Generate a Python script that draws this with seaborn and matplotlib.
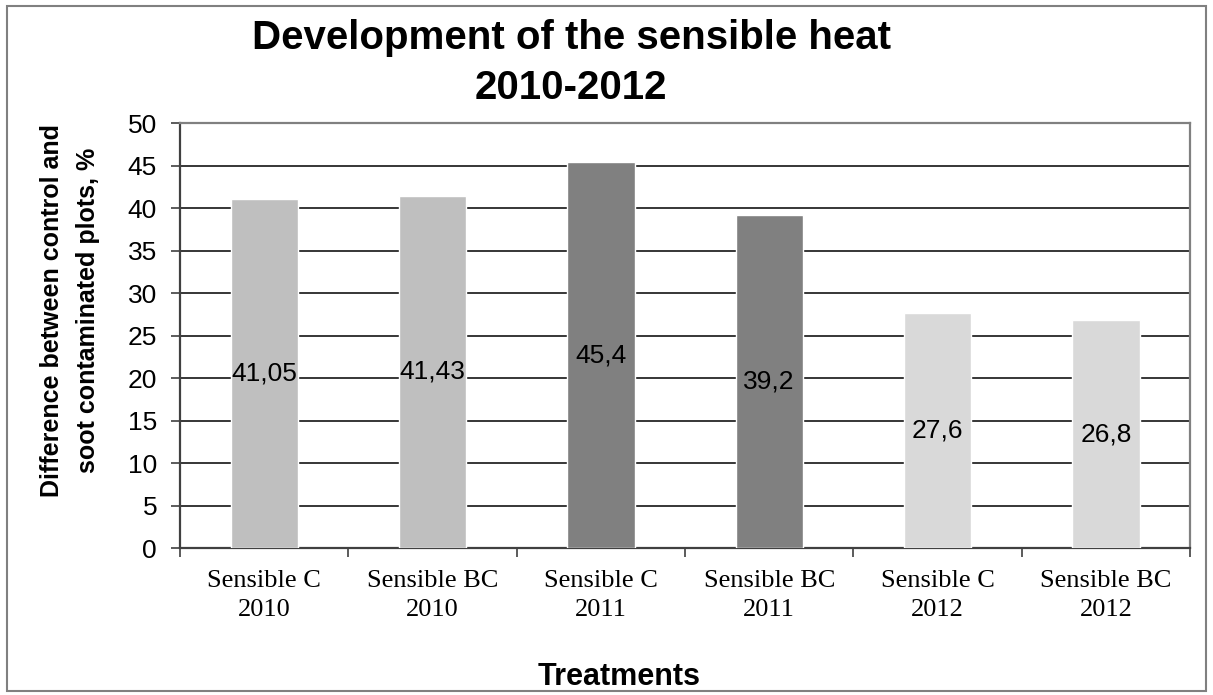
import matplotlib
matplotlib.use("Agg")
import matplotlib.pyplot as plt
from matplotlib.patches import Rectangle
import seaborn as sns
import numpy as np

categories = ["Sensible C\n2010", "Sensible BC\n2010", "Sensible C\n2011",
              "Sensible BC\n2011", "Sensible C\n2012", "Sensible BC\n2012"]
values = [41.05, 41.43, 45.4, 39.2, 27.6, 26.8]
value_labels = ["41,05", "41,43", "45,4", "39,2", "27,6", "26,8"]
bar_colors = ["#BFBFBF", "#BFBFBF", "#808080", "#808080", "#D9D9D9", "#D9D9D9"]
y_ticks = [0, 5, 10, 15, 20, 25, 30, 35, 40, 45, 50]

sns.set_theme(style="white")
plt.rcParams["font.family"] = ["Liberation Sans", "DejaVu Sans"]
for key in ["text.color", "axes.labelcolor", "xtick.labelcolor", "ytick.labelcolor"]:
    plt.rcParams[key] = "black"

fig = plt.figure(figsize=(12.13, 6.95), dpi=100)
ax = fig.add_axes([0.1484, 0.2115, 0.8327, 0.6115])

sns.barplot(x=categories, y=values, hue=categories, palette=bar_colors,
            width=0.4, legend=False, ax=ax, saturation=1, zorder=3)

ax.set_ylim(0, 50)
ax.set_xlim(-0.5, len(categories) - 0.5)
ax.set_yticks(y_ticks)
ax.set_yticklabels([str(t) for t in y_ticks], fontsize=19)
for t in y_ticks[1:-1]:
    ax.axhline(t, color="black", lw=1.1, zorder=1)

# category labels centred, tick marks on category boundaries
ax.set_xticks(range(len(categories)))
ax.set_xticklabels(categories, fontsize=19, family="Liberation Serif",
                   linespacing=1.37)
ax.set_xticks(np.arange(-0.5, len(categories)), minor=True)
ax.tick_params(axis="x", which="major", length=0, pad=16)
ax.tick_params(axis="x", which="minor", length=6.5, width=1.2, color="#404040",
               direction="out", bottom=True)
ax.tick_params(axis="y", length=6.5, width=1.2, color="#404040",
               direction="out", left=True, pad=10)

for side in ["left", "bottom"]:
    ax.spines[side].set_color("#404040")
    ax.spines[side].set_linewidth(1.6)
for side in ["top", "right"]:
    ax.spines[side].set_color("#808080")
    ax.spines[side].set_linewidth(1.6)

for i, (v, lab) in enumerate(zip(values, value_labels)):
    ax.text(i, v / 2, lab, ha="center", va="center", fontsize=19,
            color="black", zorder=4)

ax.set_xlabel("Treatments", fontsize=22, fontweight="bold")
ax.xaxis.set_label_coords(0.435, -0.268)
ax.set_ylabel("Difference between control and\nsoot contaminated plots, %",
              fontsize=18, fontweight="bold", linespacing=1.62)
ax.yaxis.set_label_coords(-0.079, 0.56)

fig.text(0.471, 0.973, "Development of the sensible heat\n2010-2012",
         fontsize=29, fontweight="bold", ha="center", va="top",
         linespacing=1.42, multialignment="center")

fig.patches.append(Rectangle((0.006, 0.006), 0.988, 0.986, transform=fig.transFigure,
                             fill=False, edgecolor="#808080", lw=1.5))

fig.savefig("out.png", dpi=100)
